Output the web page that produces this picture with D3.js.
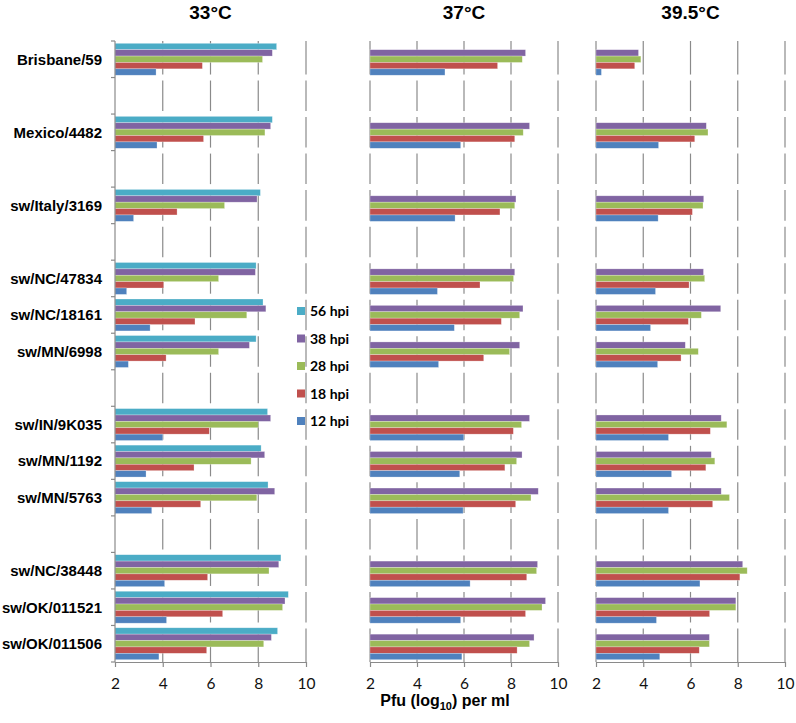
<!DOCTYPE html>
<html>
<head>
<meta charset="utf-8">
<script src="https://cdn.jsdelivr.net/npm/d3@7"></script>
<style>
  body { margin: 0; background: #fff; }
  svg { display: block; }
</style>
</head>
<body>
<div id="chart"></div>
<script>
// rows top to bottom, "" = empty spacer row
const rows = ["Brisbane/59", "", "Mexico/4482", "", "sw/Italy/3169", "",
  "sw/NC/47834", "sw/NC/18161", "sw/MN/6998", "",
  "sw/IN/9K035", "sw/MN/1192", "sw/MN/5763", "",
  "sw/NC/38448", "sw/OK/011521", "sw/OK/011506"];
const temps = ["33°C", "37°C", "39.5°C"];
const series = ["56 hpi", "38 hpi", "28 hpi", "18 hpi", "12 hpi"];
const colors = ["#4BACC6", "#8064A2", "#9BBB59", "#C0504D", "#4F81BD"];
const xTicks = [2, 4, 6, 8, 10];

// values in strain order (non-empty rows)
const t33_56 = [8.77, 8.59, 8.09, 7.91, 8.20, 7.91, 8.39, 8.12, 8.41, 8.95, 9.26, 8.81];
const t33_38 = [8.59, 8.52, 7.95, 7.88, 8.32, 7.63, 8.52, 8.27, 8.69, 8.86, 9.12, 8.55];
const t33_28 = [8.18, 8.28, 6.59, 6.34, 7.52, 6.34, 8.00, 7.70, 7.94, 8.45, 9.02, 8.23];
const t33_18 = [5.66, 5.71, 4.60, 4.04, 5.35, 4.14, 5.95, 5.31, 5.59, 5.88, 6.51, 5.84];
const t33_12 = [3.72, 3.76, 2.78, 2.49, 3.47, 2.56, 4.00, 3.30, 3.54, 4.08, 4.16, 3.84];

const t37_38 = [8.62, 8.79, 8.21, 8.16, 8.51, 8.37, 8.79, 8.47, 9.16, 9.13, 9.47, 8.98];
const t37_28 = [8.48, 8.52, 8.16, 8.11, 8.37, 7.94, 8.45, 8.24, 8.85, 9.09, 9.32, 8.79];
const t37_18 = [7.43, 8.16, 7.53, 6.68, 7.59, 6.84, 8.10, 7.74, 8.20, 8.67, 8.62, 8.26];
const t37_12 = [5.19, 5.86, 5.62, 4.87, 5.59, 4.92, 5.99, 5.82, 5.96, 6.26, 5.86, 5.91];

const t39_38 = [3.80, 6.67, 6.56, 6.55, 7.28, 5.78, 7.30, 6.88, 7.30, 8.21, 7.92, 6.80];
const t39_28 = [3.90, 6.74, 6.53, 6.60, 6.46, 6.33, 7.54, 7.03, 7.65, 8.40, 7.92, 6.80];
const t39_18 = [3.64, 6.18, 6.08, 5.94, 5.91, 5.60, 6.84, 6.65, 6.94, 8.09, 6.81, 6.37];
const t39_12 = [2.23, 4.65, 4.63, 4.52, 4.31, 4.61, 5.07, 5.20, 5.07, 6.40, 4.56, 4.70];

// per panel: one array per series (null = not measured)
const panelData = [
  [t33_56, t33_38, t33_28, t33_18, t33_12],
  [null, t37_38, t37_28, t37_18, t37_12],
  [null, t39_38, t39_28, t39_18, t39_12]
];

const width = 796, height = 723;
const yTop = 41, yBottom = 662;
const panelX = [[115, 306], [370, 558], [596, 785]];
const gridColor = "#8a8a8a";

const svg = d3.select("#chart").append("svg")
  .attr("width", width).attr("height", height);

const y = d3.scaleBand().domain(d3.range(rows.length)).range([yTop, yBottom]);
const ySub = d3.scaleBand().domain(series).range([2.3, y.bandwidth() - 2.3]);

// map strain index -> row index
const strainRows = rows.map((r, i) => r ? i : -1).filter(i => i >= 0);

panelData.forEach((pd, p) => {
  const x = d3.scaleLinear().domain([2, 10]).range(panelX[p]);
  const g = svg.append("g");

  // broken vertical gridlines
  const gridVals = p === 0 ? xTicks.slice(1) : xTicks;
  gridVals.forEach(v => {
    rows.forEach((r, i) => {
      const y0 = i === 0 ? y(i) : y(i) + 3;
      const y1 = i === rows.length - 1 ? y(i) + y.bandwidth() : y(i) + y.bandwidth() - 3;
      g.append("line")
        .attr("x1", x(v)).attr("x2", x(v))
        .attr("y1", y0).attr("y2", y1)
        .attr("stroke", gridColor).attr("stroke-width", 1.2);
    });
  });

  // bars
  pd.forEach((vals, s) => {
    if (!vals) return;
    g.selectAll(null).data(vals).enter().append("rect")
      .attr("x", x(2))
      .attr("y", (d, k) => y(strainRows[k]) + ySub(series[s]))
      .attr("width", d => x(d) - x(2))
      .attr("height", ySub.bandwidth())
      .attr("fill", colors[s])
      .attr("stroke", "#fff").attr("stroke-opacity", 0.45).attr("stroke-width", 0.6);
  });

  // bottom axis
  const ax = g.append("g")
    .attr("transform", `translate(0,${yBottom})`)
    .call(d3.axisBottom(x).tickValues(xTicks).tickSize(5).tickSizeOuter(0).tickPadding(11));
  ax.select(".domain").attr("stroke", gridColor).attr("stroke-width", 1.2);
  ax.selectAll(".tick line").attr("stroke", gridColor).attr("stroke-width", 1.2);
  ax.selectAll("text")
    .attr("font-family", "Lato, 'Open Sans', sans-serif")
    .attr("font-size", 15.5).attr("fill", "#111");

  // panel title
  svg.append("text")
    .attr("x", (panelX[p][0] + panelX[p][1]) / 2).attr("y", 19)
    .attr("text-anchor", "middle")
    .attr("font-family", "'Liberation Sans', Arial, sans-serif")
    .attr("font-weight", "bold").attr("font-size", 19)
    .text(temps[p]);
});

// left axis of first panel
const x0 = panelX[0][0];
svg.append("line")
  .attr("x1", x0).attr("x2", x0).attr("y1", yTop).attr("y2", yBottom)
  .attr("stroke", gridColor).attr("stroke-width", 1.2);
svg.selectAll(null).data(d3.range(rows.length + 1)).enter().append("line")
  .attr("x1", x0 - 4).attr("x2", x0)
  .attr("y1", i => i < rows.length ? y(i) : yBottom)
  .attr("y2", i => i < rows.length ? y(i) : yBottom)
  .attr("stroke", gridColor).attr("stroke-width", 1.2);

// strain labels
svg.selectAll(null).data(rows.map((r, i) => ({ r, i })).filter(d => d.r)).enter().append("text")
  .attr("x", 102)
  .attr("y", d => y(d.i) + y.bandwidth() / 2)
  .attr("dy", "0.36em")
  .attr("text-anchor", "end")
  .attr("font-family", "'Liberation Sans', Arial, sans-serif")
  .attr("font-weight", "bold").attr("font-size", 15)
  .text(d => d.r);

// legend
const legend = svg.append("g").attr("transform", "translate(297,311)");
series.forEach((s, i) => {
  const row = legend.append("g").attr("transform", `translate(0,${i * 27.5})`);
  row.append("rect").attr("x", 0).attr("y", -4).attr("width", 8).attr("height", 8)
    .attr("fill", colors[i]);
  row.append("text").attr("x", 13).attr("dy", "0.36em")
    .attr("font-family", "Lato, 'Open Sans', sans-serif")
    .attr("font-weight", "bold").attr("font-size", 14)
    .text(s);
});

// x axis title with subscript
const title = svg.append("text")
  .attr("x", 445).attr("y", 706)
  .attr("text-anchor", "middle")
  .attr("font-family", "'Liberation Sans', Arial, sans-serif")
  .attr("font-weight", "bold").attr("font-size", 16);
title.append("tspan").text("Pfu (log");
title.append("tspan").attr("font-size", 11).attr("dy", 4).text("10");
title.append("tspan").attr("dy", -4).text(") per ml");
</script>
</body>
</html>
